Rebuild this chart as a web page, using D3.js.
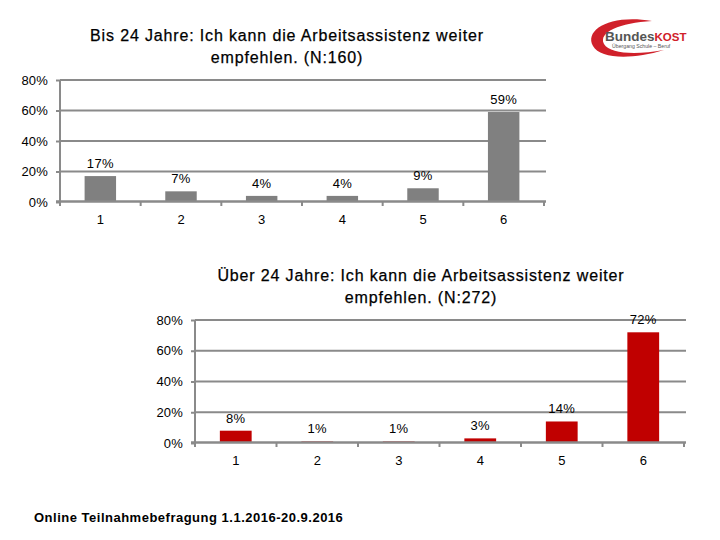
<!DOCTYPE html>
<html><head><meta charset="utf-8">
<script src="https://cdn.jsdelivr.net/npm/d3@7"></script>
<style>
html,body{margin:0;padding:0;background:#fff;}
svg{display:block;font-family:"Liberation Sans",Arial,sans-serif;}
</style></head>
<body>
<svg id="chart" width="720" height="540"></svg>
<script>
const categories = ["1","2","3","4","5","6"];
const valuesUnder24 = [17, 7, 4, 4, 9, 59];
const valuesOver24 = [8, 1, 1, 3, 14, 72];
const yTicks = [0, 20, 40, 60, 80];
const titleUnder24 = ["Bis 24 Jahre: Ich kann die Arbeitsassistenz weiter", "empfehlen. (N:160)"];
const titleOver24 = ["Über 24 Jahre: Ich kann die Arbeitsassistenz weiter", "empfehlen. (N:272)"];
const footerText = "Online Teilnahmebefragung 1.1.2016-20.9.2016";

const svg = d3.select("#chart");
const axisColor = "#8a8a8a";

function drawChart(cfg) {
  const g = svg.append("g");
  const x = d3.scaleBand().domain(categories).range([cfg.x0, cfg.x1])
    .paddingInner(0.61).paddingOuter(0.305);
  const y = d3.scaleLinear().domain([0, 80]).range([cfg.y0, cfg.y1]);

  // title
  g.append("text").attr("x", cfg.tx).attr("y", cfg.ty)
    .attr("text-anchor", "middle").attr("font-size", 16).attr("fill", "#000")
    .attr("letter-spacing", 0.85).attr("stroke", "#000").attr("stroke-width", 0.25)
    .selectAll("tspan").data(cfg.title).join("tspan")
    .attr("x", cfg.tx).attr("dy", (d, i) => i === 0 ? 0 : 22).text(d => d);

  // gridlines
  g.append("g").selectAll("line").data(yTicks.filter(d => d > 0)).join("line")
    .attr("x1", cfg.x0).attr("x2", cfg.x1 + 2)
    .attr("y1", d => y(d)).attr("y2", d => y(d))
    .attr("stroke", axisColor).attr("stroke-width", 2);

  // bars
  g.append("g").selectAll("rect").data(cfg.values).join("rect")
    .attr("x", (d, i) => x(categories[i]))
    .attr("width", x.bandwidth())
    .attr("y", d => y(d))
    .attr("height", d => y(0) - y(d))
    .attr("fill", cfg.color);

  // value labels
  g.append("g").selectAll("text").data(cfg.values).join("text")
    .attr("x", (d, i) => x(categories[i]) + x.bandwidth() / 2)
    .attr("y", d => y(d) - 8)
    .attr("text-anchor", "middle").attr("font-size", 13).attr("letter-spacing", 0.3).attr("fill", "#000")
    .text(d => d + "%");

  // y axis
  const ya = g.append("g").attr("transform", `translate(${cfg.x0},0)`)
    .call(d3.axisLeft(y).tickValues(yTicks).tickFormat(d => d + "%").tickSize(4).tickPadding(8));
  ya.select(".domain").remove();
  ya.selectAll(".tick line").attr("stroke", axisColor).attr("stroke-width", 2);
  ya.selectAll(".tick text").attr("font-size", 13).attr("fill", "#000").attr("letter-spacing", 0.2)
    .attr("font-family", "Liberation Sans, Arial, sans-serif");
  g.append("line").attr("x1", cfg.x0).attr("x2", cfg.x0)
    .attr("y1", y(80)).attr("y2", y(0) + 1)
    .attr("stroke", axisColor).attr("stroke-width", 2);

  // x axis
  g.append("line").attr("x1", cfg.x0 - 4).attr("x2", cfg.x1 + 2)
    .attr("y1", y(0) - 0.5).attr("y2", y(0) - 0.5)
    .attr("stroke", axisColor).attr("stroke-width", 2.5);
  const step = x.step();
  const bounds = d3.range(categories.length + 1).map(i => cfg.x0 + i * step);
  g.append("g").selectAll("line").data(bounds).join("line")
    .attr("x1", d => d).attr("x2", d => d)
    .attr("y1", y(0)).attr("y2", y(0) + 4)
    .attr("stroke", axisColor).attr("stroke-width", 2);
  const xa = g.append("g").attr("transform", `translate(0,${y(0)})`)
    .call(d3.axisBottom(x).tickSize(0).tickPadding(13));
  xa.select(".domain").remove();
  xa.selectAll(".tick text").attr("font-size", 13).attr("fill", "#000")
    .attr("font-family", "Liberation Sans, Arial, sans-serif");
}

drawChart({x0: 60, x1: 544, y0: 202, y1: 80, values: valuesUnder24, color: "#808080",
  title: titleUnder24, tx: 287, ty: 41});
drawChart({x0: 195, x1: 684, y0: 443, y1: 320, values: valuesOver24, color: "#c00000",
  title: titleOver24, tx: 421, ty: 281});

// footer
svg.append("text").attr("x", 34).attr("y", 522).attr("font-size", 13).attr("letter-spacing", 0.5)
  .attr("font-weight", "bold").attr("fill", "#000").text(footerText);

// logo
const logo = svg.append("g");
logo.append("path")
  .attr("d", "M652,21 C610,14 584,30 593,46 C600,59 632,60 664,50 C636,55 610,54 604,44 C598,32 620,23 652,21 Z")
  .attr("fill", "#d0202a");
logo.append("text").attr("x", 605).attr("y", 41).attr("font-size", 13.5).attr("font-weight", "bold")
  .selectAll("tspan").data([["Bundes", "#555"], ["KOST", "#d0202a"]]).join("tspan")
  .attr("fill", d => d[1]).attr("font-size", (d, i) => i ? 11.5 : 13.5).text(d => d[0]);
logo.append("text").attr("x", 612).attr("y", 47.5).attr("font-size", 5.2).attr("fill", "#555")
  .text("Übergang Schule – Beruf");
</script>
</body></html>
